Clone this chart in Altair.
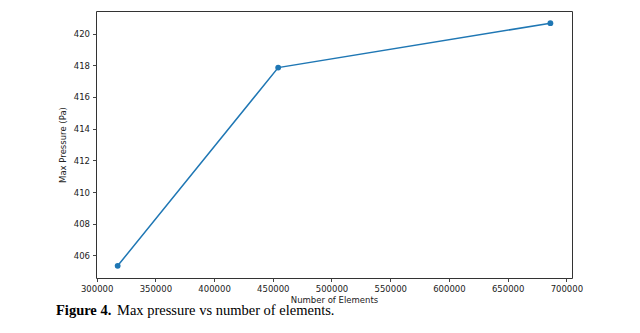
import altair as alt
import pandas as pd

elements = [317900, 454600, 686400]
pressure = [405.35, 417.85, 420.65]
x_ticks = [300000, 350000, 400000, 450000, 500000, 550000, 600000, 650000, 700000]
y_ticks = [406, 408, 410, 412, 414, 416, 418, 420]
caption_bold = ["Figure 4."]
caption_text = ["Max pressure vs number of elements."]

df = pd.DataFrame({"elements": elements, "pressure": pressure})

common = dict(grid=False, labelFont="DejaVu Sans", labelFontSize=8.5, labelColor="#222",
              titleFont="DejaVu Sans", titleFontSize=8.5, titleFontWeight="normal",
              titleColor="#222", tickSize=3.5, tickColor="#444", domain=False,
              labelOverlap=False, labelFlush=False)

x_enc = alt.X("elements:Q",
              scale=alt.Scale(domain=[299450, 704810], nice=False, zero=False),
              axis=alt.Axis(values=x_ticks, format="d", title="Number of Elements",
                            labelPadding=3, titlePadding=2, **common))
y_enc = alt.Y("pressure:Q",
              scale=alt.Scale(domain=[404.58, 421.42], nice=False, zero=False),
              axis=alt.Axis(values=y_ticks, format="d", title="Max Pressure (Pa)",
                            labelPadding=3, titlePadding=6, **common))

base = alt.Chart(df).encode(x=x_enc, y=y_enc)
line = base.mark_line(color="#1f77b4", strokeWidth=1.5)
pts = base.mark_circle(color="#1f77b4", size=34, opacity=1)

cap1 = alt.Chart(pd.DataFrame({"t": caption_bold})).mark_text(
    align="left", baseline="alphabetic", font="Liberation Serif", fontSize=14.5,
    fontWeight="bold", color="#000").encode(text="t:N", x=alt.value(-40), y=alt.value(303.5))
cap2 = alt.Chart(pd.DataFrame({"t": caption_text})).mark_text(
    align="left", baseline="alphabetic", font="Liberation Serif", fontSize=14.5,
    color="#000").encode(text="t:N", x=alt.value(21), y=alt.value(303.5))

chart = alt.layer(line, pts, cap1, cap2).properties(
    width=476, height=267,
    autosize=alt.AutoSizeParams(type="none"),
    padding={"left": 96, "top": 11, "right": 68, "bottom": 55},
    view=alt.ViewBackground(stroke="#333333", strokeWidth=1),
).configure(background="white")

chart.save("out.html", embed_options={"renderer": "svg", "actions": False})
